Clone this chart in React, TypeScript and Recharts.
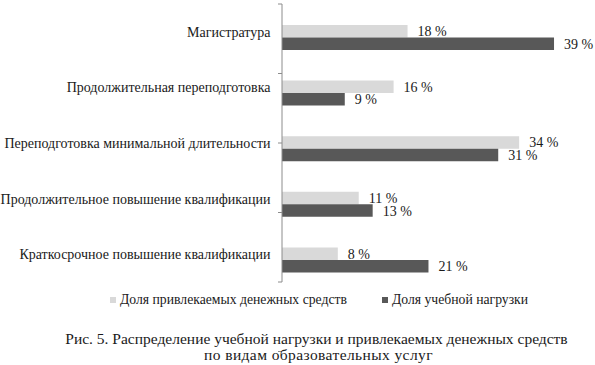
import React from 'react';
import { BarChart, Bar, XAxis, YAxis, LabelList, Legend } from 'recharts';

const categories = [
  'Магистратура',
  'Продолжительная переподготовка',
  'Переподготовка минимальной длительности',
  'Продолжительное повышение квалификации',
  'Краткосрочное повышение квалификации',
];
const fundsShare = [18, 16, 34, 11, 8];
const loadShare = [39, 9, 31, 13, 21];
const seriesNames = ['Доля привлекаемых денежных средств', 'Доля учебной нагрузки'];
const boundaryTicks = [0, 1, 2, 3, 4, 5];
const captionLines = [
  'Рис. 5. Распределение учебной нагрузки и привлекаемых денежных средств',
  'по видам образовательных услуг',
];

const data = categories.map((name, i) => ({ name, funds: fundsShare[i], load: loadShare[i] }));

const FONT = '"Liberation Serif", "DejaVu Serif", serif';
const LIGHT = '#d9d9d9';
const DARK = '#585858';
const TEXT = '#1a1a1a';
const AXIS = '#8c8c8c';

const CategoryTick = (props: any) => {
  const { x, y, payload } = props;
  return (
    <text x={x} y={y} dy="0.355em" textAnchor="end" fontFamily={FONT} fontSize={14} fill={TEXT}>
      {payload.value}
    </text>
  );
};

const ValueLabel = (props: any) => {
  const { x, y, width, height, value } = props;
  return (
    <text x={Number(x) + Number(width) + 10} y={Number(y) + Number(height) / 2} dy="0.355em" textAnchor="start" fontFamily={FONT} fontSize={14} fill={TEXT}>
      {`${value} %`}
    </text>
  );
};

const LegendContent = () => (
  <div style={{ display: 'flex', alignItems: 'center', fontFamily: FONT, fontSize: 13.7, color: TEXT, whiteSpace: 'nowrap' }}>
    <span style={{ display: 'inline-block', width: 6, height: 6, background: LIGHT, marginRight: 4 }} />
    <span style={{ marginRight: 35 }}>{seriesNames[0]}</span>
    <span style={{ display: 'inline-block', width: 6, height: 6, background: DARK, marginRight: 4 }} />
    <span>{seriesNames[1]}</span>
  </div>
);

export default function App() {
  return (
    <div style={{ position: 'absolute', left: 0, top: 0, width: 595, height: 365, background: '#fff' }}>
      <BarChart
        width={595}
        height={365}
        data={data}
        layout="vertical"
        margin={{ top: 4, right: 34, bottom: 83, left: 0 }}
        barGap={0}
      >
        <XAxis type="number" xAxisId="x" domain={[0, 40]} hide />
        <YAxis
          yAxisId="a_ticks"
          type="number"
          domain={[0, 5]}
          ticks={boundaryTicks}
          allowDataOverflow
          width={1}
          tickSize={4}
          tickFormatter={() => ''}
          axisLine={{ stroke: AXIS }}
          tickLine={{ stroke: AXIS }}
        />
        <YAxis
          yAxisId="b_bars"
          type="category"
          dataKey="name"
          hide
          width={0}
          padding={{ top: 6, bottom: -6 }}
        />
        <YAxis
          yAxisId="c_labels"
          type="category"
          dataKey="name"
          width={281}
          axisLine={false}
          tickLine={false}
          tickSize={0}
          tickMargin={10.5}
          interval={0}
          tick={<CategoryTick />}
        />
        <Legend
          verticalAlign="middle"
          align="center"
          layout="horizontal"
          content={LegendContent}
          wrapperStyle={{ position: 'absolute', top: 292, left: 110, width: 'auto' }}
        />
        <Bar dataKey="funds" name={seriesNames[0]} xAxisId="x" yAxisId="b_bars" fill={LIGHT} barSize={12.5} isAnimationActive={false}>
          <LabelList dataKey="funds" content={<ValueLabel />} />
        </Bar>
        <Bar dataKey="load" name={seriesNames[1]} xAxisId="x" yAxisId="b_bars" fill={DARK} barSize={12.5} isAnimationActive={false}>
          <LabelList dataKey="load" content={<ValueLabel />} />
        </Bar>
      </BarChart>
      <div style={{ position: 'absolute', left: 0, top: 331, width: 595, textAlign: 'center', fontFamily: FONT, fontSize: 15.5, lineHeight: '16px', color: TEXT }}>
        <div style={{ paddingLeft: 38 }}>{captionLines[0]}</div>
        <div style={{ paddingLeft: 42, letterSpacing: 0.4 }}>{captionLines[1]}</div>
      </div>
    </div>
  );
}
